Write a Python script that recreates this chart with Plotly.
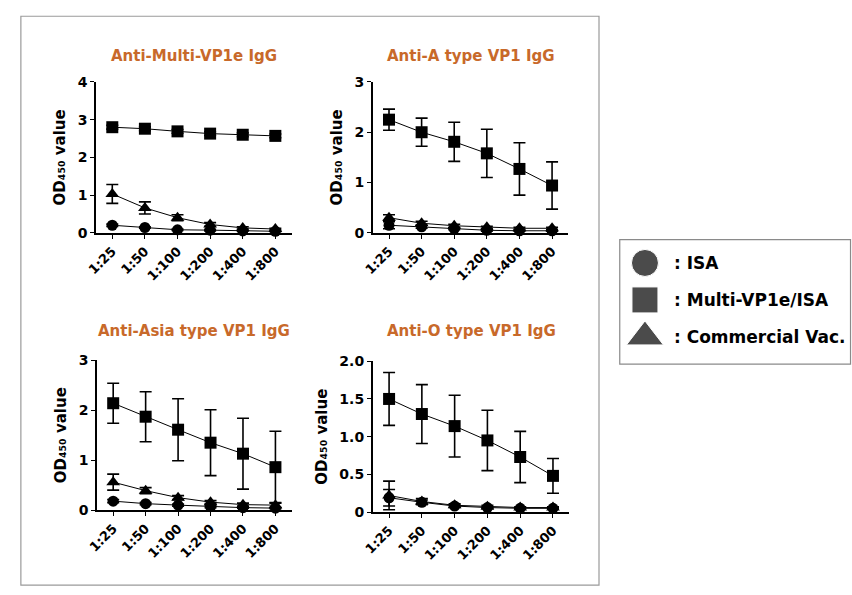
import plotly.graph_objects as go

W, H = 852, 595

categories = ["1:25", "1:50", "1:100", "1:200", "1:400", "1:800"]

titles = ["Anti-Multi-VP1e IgG", "Anti-A type VP1 IgG", "Anti-Asia type VP1 IgG", "Anti-O type VP1 IgG"]

y_title = "OD₄₅₀ value"

# Panel 1: Anti-Multi-VP1e
multi_sq = [2.80, 2.76, 2.69, 2.63, 2.60, 2.57]
multi_sq_err = [0.05, 0.05, 0.05, 0.05, 0.05, 0.05]
multi_tri = [1.03, 0.66, 0.40, 0.22, 0.13, 0.10]
multi_tri_err = [0.25, 0.16, 0.08, 0.05, 0.03, 0.02]
multi_cir = [0.20, 0.14, 0.08, 0.07, 0.05, 0.04]
multi_cir_err = [0.03, 0.02, 0.02, 0.02, 0.01, 0.01]

# Panel 2: Anti-A type
a_sq = [2.25, 2.00, 1.81, 1.58, 1.27, 0.94]
a_sq_err = [0.21, 0.28, 0.39, 0.48, 0.52, 0.47]
a_tri = [0.30, 0.19, 0.14, 0.11, 0.09, 0.09]
a_tri_err = [0.06, 0.04, 0.03, 0.02, 0.02, 0.02]
a_cir = [0.15, 0.12, 0.08, 0.05, 0.04, 0.04]
a_cir_err = [0.07, 0.03, 0.02, 0.02, 0.01, 0.01]

# Panel 3: Anti-Asia type
asia_sq = [2.14, 1.87, 1.61, 1.35, 1.13, 0.86]
asia_sq_err = [0.40, 0.50, 0.62, 0.66, 0.71, 0.72]
asia_tri = [0.56, 0.39, 0.25, 0.16, 0.11, 0.10]
asia_tri_err = [0.16, 0.06, 0.04, 0.03, 0.03, 0.05]
asia_cir = [0.18, 0.13, 0.10, 0.07, 0.05, 0.04]
asia_cir_err = [0.03, 0.02, 0.02, 0.02, 0.01, 0.01]

# Panel 4: Anti-O type
o_sq = [1.50, 1.30, 1.14, 0.95, 0.73, 0.48]
o_sq_err = [0.35, 0.39, 0.41, 0.40, 0.34, 0.23]
o_tri = [0.22, 0.14, 0.09, 0.07, 0.06, 0.06]
o_tri_err = [0.19, 0.04, 0.02, 0.02, 0.01, 0.01]
o_cir = [0.19, 0.13, 0.08, 0.06, 0.05, 0.05]
o_cir_err = [0.11, 0.03, 0.02, 0.01, 0.01, 0.01]

yticks = [
    ([0, 1, 2, 3, 4], ["0", "1", "2", "3", "4"]),
    ([0, 1, 2, 3], ["0", "1", "2", "3"]),
    ([0, 1, 2, 3], ["0", "1", "2", "3"]),
    ([0, 0.5, 1.0, 1.5, 2.0], ["0", "0.5", "1.0", "1.5", "2.0"]),
]
yranges = [[0, 4], [0, 3], [0, 3], [0, 2]]

legend_labels = [": ISA", ": Multi-VP1e/ISA", ": Commercial Vac."]

panels = [
    (multi_cir, multi_cir_err, multi_sq, multi_sq_err, multi_tri, multi_tri_err),
    (a_cir, a_cir_err, a_sq, a_sq_err, a_tri, a_tri_err),
    (asia_cir, asia_cir_err, asia_sq, asia_sq_err, asia_tri, asia_tri_err),
    (o_cir, o_cir_err, o_sq, o_sq_err, o_tri, o_tri_err),
]

# pixel boxes in window coordinates: (x0, x1, ytop, ybottom)
boxes = [(87, 285, 76, 231), (367, 565, 76, 231), (88, 285, 362, 516), (367, 566, 363, 518)]


def px(x):
    return x / W


def py(y):
    return 1 - y / H


FONT = "DejaVu Sans"
fig = go.Figure()
layout = dict(
    width=W, height=H, margin=dict(l=0, r=0, t=0, b=0),
    paper_bgcolor="white", plot_bgcolor="white", showlegend=False,
    font=dict(family=FONT, color="black"),
)

annotations = []
for i, (pdata, box) in enumerate(zip(panels, boxes)):
    k = "" if i == 0 else str(i + 1)
    xa, ya = "x" + k, "y" + k
    cir, cir_e, sq, sq_e, tri, tri_e = pdata
    for vals, errs, sym, size in [(cir, cir_e, "circle", 11), (tri, tri_e, "triangle-up", 12), (sq, sq_e, "square", 12)]:
        fig.add_trace(go.Scatter(
            x=list(range(len(categories))), y=vals, xaxis=xa, yaxis=ya, mode="lines+markers",
            line=dict(color="black", width=1),
            marker=dict(symbol=sym, size=size, color="black"),
            error_y=dict(type="data", array=errs, color="black", thickness=1.6, width=6),
            cliponaxis=False,
        ))
    x0, x1, yt, yb = box
    layout["xaxis" + k] = dict(
        domain=[px(x0), px(x1)], anchor=ya, range=[-0.5, 5.5],
        tickvals=list(range(len(categories))), ticktext=["<b>%s</b>" % c for c in categories],
        showline=True, linecolor="black", linewidth=1.5, ticks="outside", ticklen=4,
        tickcolor="black", tickangle=-45, showgrid=False, zeroline=False,
        tickfont=dict(family=FONT, size=13, color="black"),
    )
    tv, tt = yticks[i]
    layout["yaxis" + k] = dict(
        domain=[py(yb), py(yt)], anchor=xa, range=yranges[i],
        showline=True, linecolor="black", linewidth=1.5, ticks="outside", ticklen=4,
        tickcolor="black", tickvals=tv, ticktext=["<b>%s</b>" % t for t in tt],
        showgrid=False, zeroline=False,
        tickfont=dict(family=FONT, size=14, color="black"),
        title=dict(text="<b>%s</b>" % y_title, standoff=8,
                   font=dict(family=FONT, size=15, color="black")),
    )
    annotations.append(dict(
        text="<b>%s</b>" % titles[i], x=px((x0 + x1) / 2), y=py(49 if i < 2 else 332),
        xref="paper", yref="paper", showarrow=False, xanchor="center", yanchor="middle",
        font=dict(family=FONT, size=15, color="#C8692A"),
    ))

# legend axis
fig.add_trace(go.Scatter(
    x=[0, 0, 0], y=[2, 1, 0], xaxis="x5", yaxis="y5", mode="markers",
    marker=dict(symbol=["circle", "square", "triangle-up"], size=[27, 26, 32], color="black"),
    cliponaxis=False,
))
layout["xaxis5"] = dict(domain=[px(630), px(655)], range=[-1, 1], visible=False, anchor="y5")
layout["yaxis5"] = dict(domain=[py(338), py(262)], range=[0, 2], visible=False, anchor="x5")
for j, lab in enumerate(legend_labels):
    annotations.append(dict(
        text="<b>%s</b>" % lab, x=px(670), y=py([262, 300, 338][j]), xref="paper", yref="paper",
        showarrow=False, xanchor="left", yanchor="middle",
        font=dict(family=FONT, size=17, color="black"),
    ))

layout["annotations"] = annotations
layout["shapes"] = [
    dict(type="rect", xref="paper", yref="paper", x0=px(11), x1=px(596), y0=py(593), y1=py(8.5),
         line=dict(color="#9a9a9a", width=1.2)),
    dict(type="rect", xref="paper", yref="paper", x0=px(617), x1=px(850.5), y0=py(366), y1=py(238),
         line=dict(color="#8a8a8a", width=1.2)),
]

fig.update_layout(**layout)
fig.write_html(
    "out.html",
    config={"displayModeBar": False},
    post_script=(
        "var gd=document.getElementById('{plot_id}');"
        "gd.style.position='fixed';gd.style.left='0px';gd.style.top='0px';"
        "document.documentElement.style.margin='0';document.body.style.margin='0';"
        "document.documentElement.style.overflow='hidden';document.body.style.overflow='hidden';"
    ),
)
